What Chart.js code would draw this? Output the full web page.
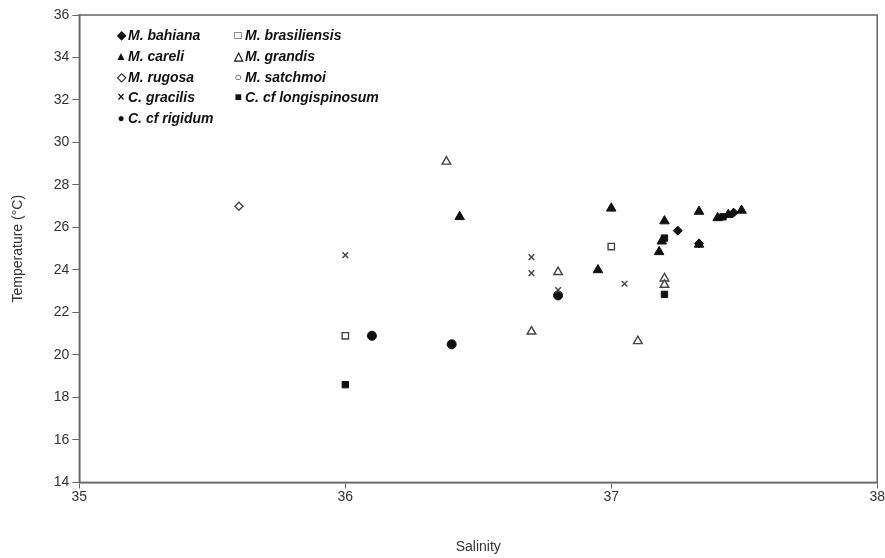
<!DOCTYPE html>
<html>
<head>
<meta charset="utf-8">
<script src="https://cdn.jsdelivr.net/npm/chart.js@4/dist/chart.umd.min.js"></script>
<style>
  body { margin: 0; background: #fff; }
  #wrap { position: relative; width: 885px; height: 558px; }
  #legend { position: absolute; left: 114px; top: 25px; font: italic bold 14px "Liberation Sans", Arial, sans-serif; color: #111; }
  .row { height: 20.8px; line-height: 20.8px; white-space: nowrap; }
  .item { display: inline-block; width: 117px; }
  .mk { display: inline-block; width: 14px; font-style: normal; font-size: 12px; text-align: center; vertical-align: top; }
</style>
</head>
<body>
<div id="wrap">
  <canvas id="my_chart" width="885" height="558"></canvas>
  <div id="legend">
    <div class="row"><span class="item"><span class="mk">◆</span>M. bahiana</span><span class="item"><span class="mk">□</span>M. brasiliensis</span></div>
    <div class="row"><span class="item"><span class="mk">▲</span>M. careli</span><span class="item"><span class="mk">△</span>M. grandis</span></div>
    <div class="row"><span class="item"><span class="mk">◇</span>M. rugosa</span><span class="item"><span class="mk">○</span>M. satchmoi</span></div>
    <div class="row"><span class="item"><span class="mk">×</span>C. gracilis</span><span class="item"><span class="mk">■</span>C. cf longispinosum</span></div>
    <div class="row"><span class="item"><span class="mk">●</span>C. cf rigidum</span></div>
  </div>
</div>
<script>
// salinity / temperature readings per species
var bahiana_x = [37.25, 37.33, 37.46]
var bahiana_y = [25.85, 25.25, 26.7]

var brasiliensis_x = [36.0, 37.0]
var brasiliensis_y = [20.9, 25.1]

var careli_x = [36.43, 37.0, 36.95, 37.2, 37.18, 37.19, 37.33, 37.33, 37.4, 37.44, 37.49]
var careli_y = [26.5, 26.9, 24.0, 26.3, 24.85, 25.35, 26.75, 25.2, 26.45, 26.6, 26.8]

var grandis_x = [36.38, 36.7, 36.8, 37.1, 37.2, 37.2]
var grandis_y = [29.1, 21.1, 23.9, 20.65, 23.6, 23.3]

var rugosa_x = [35.6]
var rugosa_y = [27.0]

var satchmoi_x = [37.0]
var satchmoi_y = [25.1]

var gracilis_x = [36.0, 36.7, 36.7, 36.8, 37.05]
var gracilis_y = [24.7, 24.6, 23.85, 23.05, 23.35]

var longispinosum_x = [36.0, 37.2, 37.2, 37.42]
var longispinosum_y = [18.6, 22.85, 25.5, 26.5]

var rigidum_x = [36.1, 36.4, 36.8]
var rigidum_y = [20.9, 20.5, 22.8]

var x_ticks = [35, 36, 37, 38]
var y_ticks = [14, 16, 18, 20, 22, 24, 26, 28, 30, 32, 34, 36]

function pts(xs, ys) {
  return xs.map((x, i) => ({x: x, y: ys[i]}))
}

const dark = '#111'
const open = '#444'

function ds(label, xs, ys, style, filled, r) {
  return {
    label: label,
    data: pts(xs, ys),
    pointStyle: style,
    pointRadius: r,
    pointHoverRadius: r,
    borderColor: filled ? dark : open,
    backgroundColor: filled ? dark : '#fff',
    borderWidth: filled ? 1 : 1.4,
    showLine: false
  }
}

const frame = {
  id: 'frame',
  afterDraw(chart) {
    const a = chart.chartArea
    const c = chart.ctx
    c.save()
    c.strokeStyle = '#666'
    c.lineWidth = 1.5
    c.strokeRect(a.left, a.top, a.right - a.left, a.bottom - a.top)
    c.restore()
  }
}

ctx = document.getElementById("my_chart").getContext("2d");
my_chart = new Chart(ctx, {
  type: 'scatter',
  data: {
    datasets: [
      ds('M. grandis', grandis_x, grandis_y, 'triangle', false, 5),
      ds('M. brasiliensis', brasiliensis_x, brasiliensis_y, 'rect', false, 4.5),
      ds('M. satchmoi', satchmoi_x, satchmoi_y, 'circle', false, 2.5),
      ds('M. rugosa', rugosa_x, rugosa_y, 'rectRot', false, 4),
      ds('C. gracilis', gracilis_x, gracilis_y, 'crossRot', false, 4),
      ds('C. cf rigidum', rigidum_x, rigidum_y, 'circle', true, 4.5),
      ds('C. cf longispinosum', longispinosum_x, longispinosum_y, 'rect', true, 4.5),
      ds('M. careli', careli_x, careli_y, 'triangle', true, 5.5),
      ds('M. bahiana', bahiana_x, bahiana_y, 'rectRot', true, 4.5)
    ]
  },
  options: {
    responsive: false,
    animation: false,
    layout: { padding: { left: 6, right: 2, top: 15, bottom: 2 } },
    plugins: {
      legend: { display: false },
      tooltip: { enabled: false }
    },
    scales: {
      x: {
        type: 'linear',
        min: 35,
        max: 38,
        afterBuildTicks: axis => { axis.ticks = x_ticks.map(v => ({value: v})) },
        grid: { drawOnChartArea: false, tickLength: 6, tickColor: '#666', color: '#666' },
        border: { color: '#666', width: 1.5 },
        ticks: { color: '#333', padding: 0, font: { family: 'Liberation Sans', size: 14 } },
        title: { display: true, text: 'Salinity', color: '#333', padding: { top: 34, bottom: 0 }, font: { family: 'Liberation Sans', size: 14 } }
      },
      y: {
        type: 'linear',
        min: 14,
        max: 36,
        afterBuildTicks: axis => { axis.ticks = y_ticks.map(v => ({value: v})) },
        grid: { drawOnChartArea: false, tickLength: 7, tickColor: '#666', color: '#666' },
        border: { color: '#666', width: 1.5 },
        ticks: { color: '#333', padding: 3, font: { family: 'Liberation Sans', size: 14 } },
        title: { display: true, text: 'Temperature (°C)', color: '#333', padding: { bottom: 24 }, font: { family: 'Liberation Sans', size: 14 } }
      }
    }
  },
  plugins: [frame]
});
</script>
</body>
</html>
